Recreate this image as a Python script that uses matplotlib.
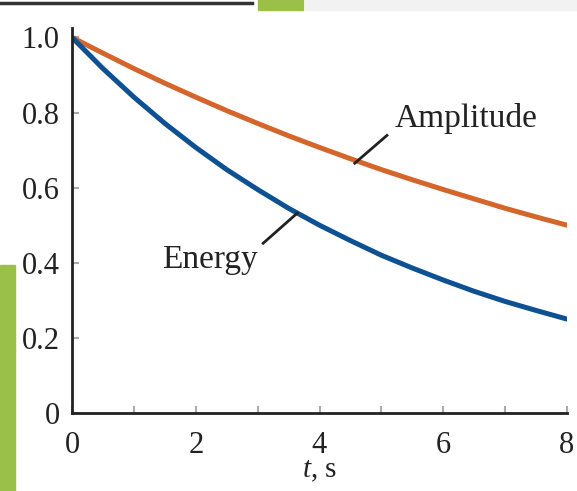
import matplotlib.pyplot as plt
from matplotlib.patches import Rectangle
from matplotlib.lines import Line2D

plt.rcParams['font.family'] = ['Liberation Serif', 'DejaVu Serif']
plt.rcParams['mathtext.fontset'] = 'custom'
plt.rcParams['mathtext.it'] = 'Liberation Serif:italic'
plt.rcParams['mathtext.rm'] = 'Liberation Serif'

# data
t = [0, 0.5, 1, 1.5, 2, 2.5, 3, 3.5, 4, 4.5, 5, 5.5, 6, 6.5, 7, 7.5, 8]
amplitude = [1.0, 0.958, 0.917, 0.878, 0.841, 0.805, 0.771, 0.738, 0.707,
             0.677, 0.648, 0.621, 0.595, 0.570, 0.545, 0.522, 0.50]
energy = [1.0, 0.917, 0.841, 0.771, 0.707, 0.648, 0.595, 0.545, 0.50,
          0.459, 0.420, 0.386, 0.354, 0.324, 0.297, 0.273, 0.25]
xticks = [0, 2, 4, 6, 8]
yticks = [0, 0.2, 0.4, 0.6, 0.8, 1.0]
ytick_labels = ['0', '0.2', '0.4', '0.6', '0.8', '1.0']

orange = '#d4652b'
blue = '#0d5193'
ink = '#222222'

fig = plt.figure(figsize=(5.77, 4.91), dpi=100)

# slide decorations around the screenshot
fig.patches.append(Rectangle((0, 0), 15 / 577, 226 / 491, transform=fig.transFigure,
                             color='#9bc04a', zorder=0))
fig.patches.append(Rectangle((258 / 577, 1 - 10 / 491), 45 / 577, 10 / 491,
                             transform=fig.transFigure, color='#9bc04a', zorder=0))
fig.patches.append(Rectangle((305 / 577, 1 - 10 / 491), 272 / 577, 10 / 491,
                             transform=fig.transFigure, color='#f2f2f2', zorder=0))
fig.lines.append(Line2D([0, 252 / 577], [1 - 3 / 491, 1 - 3 / 491],
                        transform=fig.transFigure, color='#333333', lw=2.5))

ax = fig.add_axes([72 / 577, 1 - 413 / 491, 495 / 577, 385 / 491])
ax.set_facecolor('none')

ax.plot(t, amplitude, color=orange, lw=3.6, solid_capstyle='round')
ax.plot(t, energy, color=blue, lw=3.6, solid_capstyle='round')

ax.set_xlim(0, 8)
ax.set_ylim(0, 1.025)
ax.spines['top'].set_visible(False)
ax.spines['right'].set_visible(False)
for s in ['left', 'bottom']:
    ax.spines[s].set_linewidth(2)
    ax.spines[s].set_color(ink)

ax.set_xticks(xticks)
ax.set_xticks(range(0, 9), minor=True)
ax.set_yticks(yticks)
ax.set_yticklabels(ytick_labels)
ax.tick_params(axis='both', which='both', direction='in', color='#aaaaaa',
               length=5, width=1.5, labelsize=22, labelcolor=ink)
ax.tick_params(axis='x', pad=13)
ax.tick_params(axis='y', pad=9)

ax.set_xlabel('$t$, s', fontsize=21, color=ink)
ax.xaxis.set_label_coords(0.5, -0.118)

# labels with leader lines
ax.plot([4.57, 5.09], [0.665, 0.739], color=ink, lw=2)
ax.text(5.22, 0.785, 'Amplitude', fontsize=24, color=ink, va='center', ha='left')
ax.plot([3.09, 3.64], [0.452, 0.532], color=ink, lw=2)
ax.text(3.01, 0.407, 'Energy', fontsize=24, color=ink, va='center', ha='right')

fig.savefig('out.png', dpi=100)
